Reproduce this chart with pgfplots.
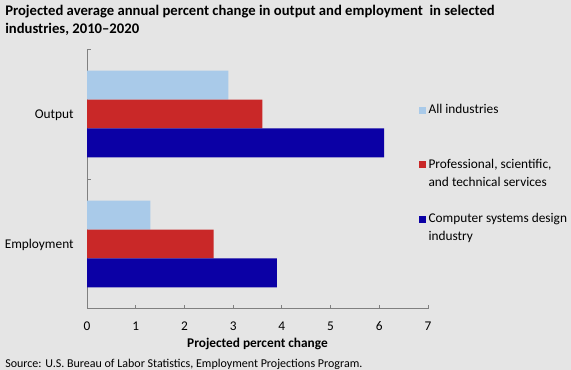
\documentclass[border=0pt]{standalone}
\usepackage{pgfplots}
\pgfplotsset{compat=1.18}
\usepackage{fontspec}
\setmainfont{Carlito}
\definecolor{bg}{HTML}{E5E5E5}
\definecolor{lblue}{HTML}{A9CAE9}
\definecolor{cred}{HTML}{C92828}
\definecolor{dblue}{HTML}{0B00A5}
\definecolor{axgray}{HTML}{808080}
\begin{document}
\begin{tikzpicture}
\fill[bg] (0,0) rectangle (428.25pt,277.5pt);
\useasboundingbox (0,0) rectangle (428.25pt,277.5pt);
\node[anchor=north west, inner sep=0pt, align=left, font=\fontsize{11}{14}\selectfont\bfseries] at (3.75pt,274pt)
  {Projected average annual percent change in output and employment \ in selected\\industries, 2010--2020};
\begin{axis}[
  at={(65.25pt,45.75pt)}, anchor=south west,
  scale only axis, width=255.75pt, height=195pt,
  xbar, bar width=0.223,
  xmin=0, xmax=7, xtick={0,1,...,7},
  ymin=-0.5, ymax=1.5,
  ytick={0,1}, yticklabels={Employment,Output},
  extra y ticks={0.5,1.5}, extra y tick labels={},
  axis x line*=bottom, axis y line*=left,
  axis line style={axgray, line width=0.75pt},
  x axis line style={-}, y axis line style={-},
  major tick length=3pt,
  tick align=inside,
  xtick style={axgray, line width=0.6pt},
  ytick style={draw=none},
  every extra y tick/.style={ytick style={draw=axgray, line width=0.6pt}},
  /pgf/number format/assume math mode=true,
  tick label style={font=\fontsize{10}{12}\selectfont, text=black},
  xticklabel style={yshift=-6pt},
  yticklabel style={xshift=-6.5pt, yshift=-1pt},
  xlabel={Projected percent change},
  xlabel style={font=\fontsize{10}{12}\selectfont\bfseries, yshift=1.5pt},
  legend style={at={(1.0,0.811)}, anchor=north west, draw=none, fill=none,
    inner sep=0pt, font=\fontsize{10}{13.5}\selectfont, row sep=26pt,
    cells={anchor=base west}, xshift=-7pt},
  legend image code/.code={\fill[#1] (0pt,0pt) rectangle (5.25pt,5.25pt);},
  clip=false,
]
\addplot[fill=lblue, draw=none, bar shift=0.223] coordinates {(1.3,0) (2.9,1)};
\addlegendentry{{\begin{tabular}[t]{@{}l@{}}All industries\\ \mbox{}\end{tabular}}}
\addplot[fill=cred, draw=none, bar shift=0] coordinates {(2.6,0) (3.6,1)};
\addlegendentry{{\begin{tabular}[t]{@{}l@{}}Professional, scientific,\\and technical services\end{tabular}}}
\addplot[fill=dblue, draw=none, bar shift=-0.223] coordinates {(3.9,0) (6.1,1)};
\addlegendentry{{\begin{tabular}[t]{@{}l@{}}Computer systems design\\industry\end{tabular}}}
\end{axis}
\node[anchor=base west, inner sep=0pt, font=\fontsize{9}{11}\selectfont] at (3.75pt,1.5pt) {Source: U.S. Bureau of Labor Statistics, Employment Projections Program.};
\end{tikzpicture}
\end{document}
